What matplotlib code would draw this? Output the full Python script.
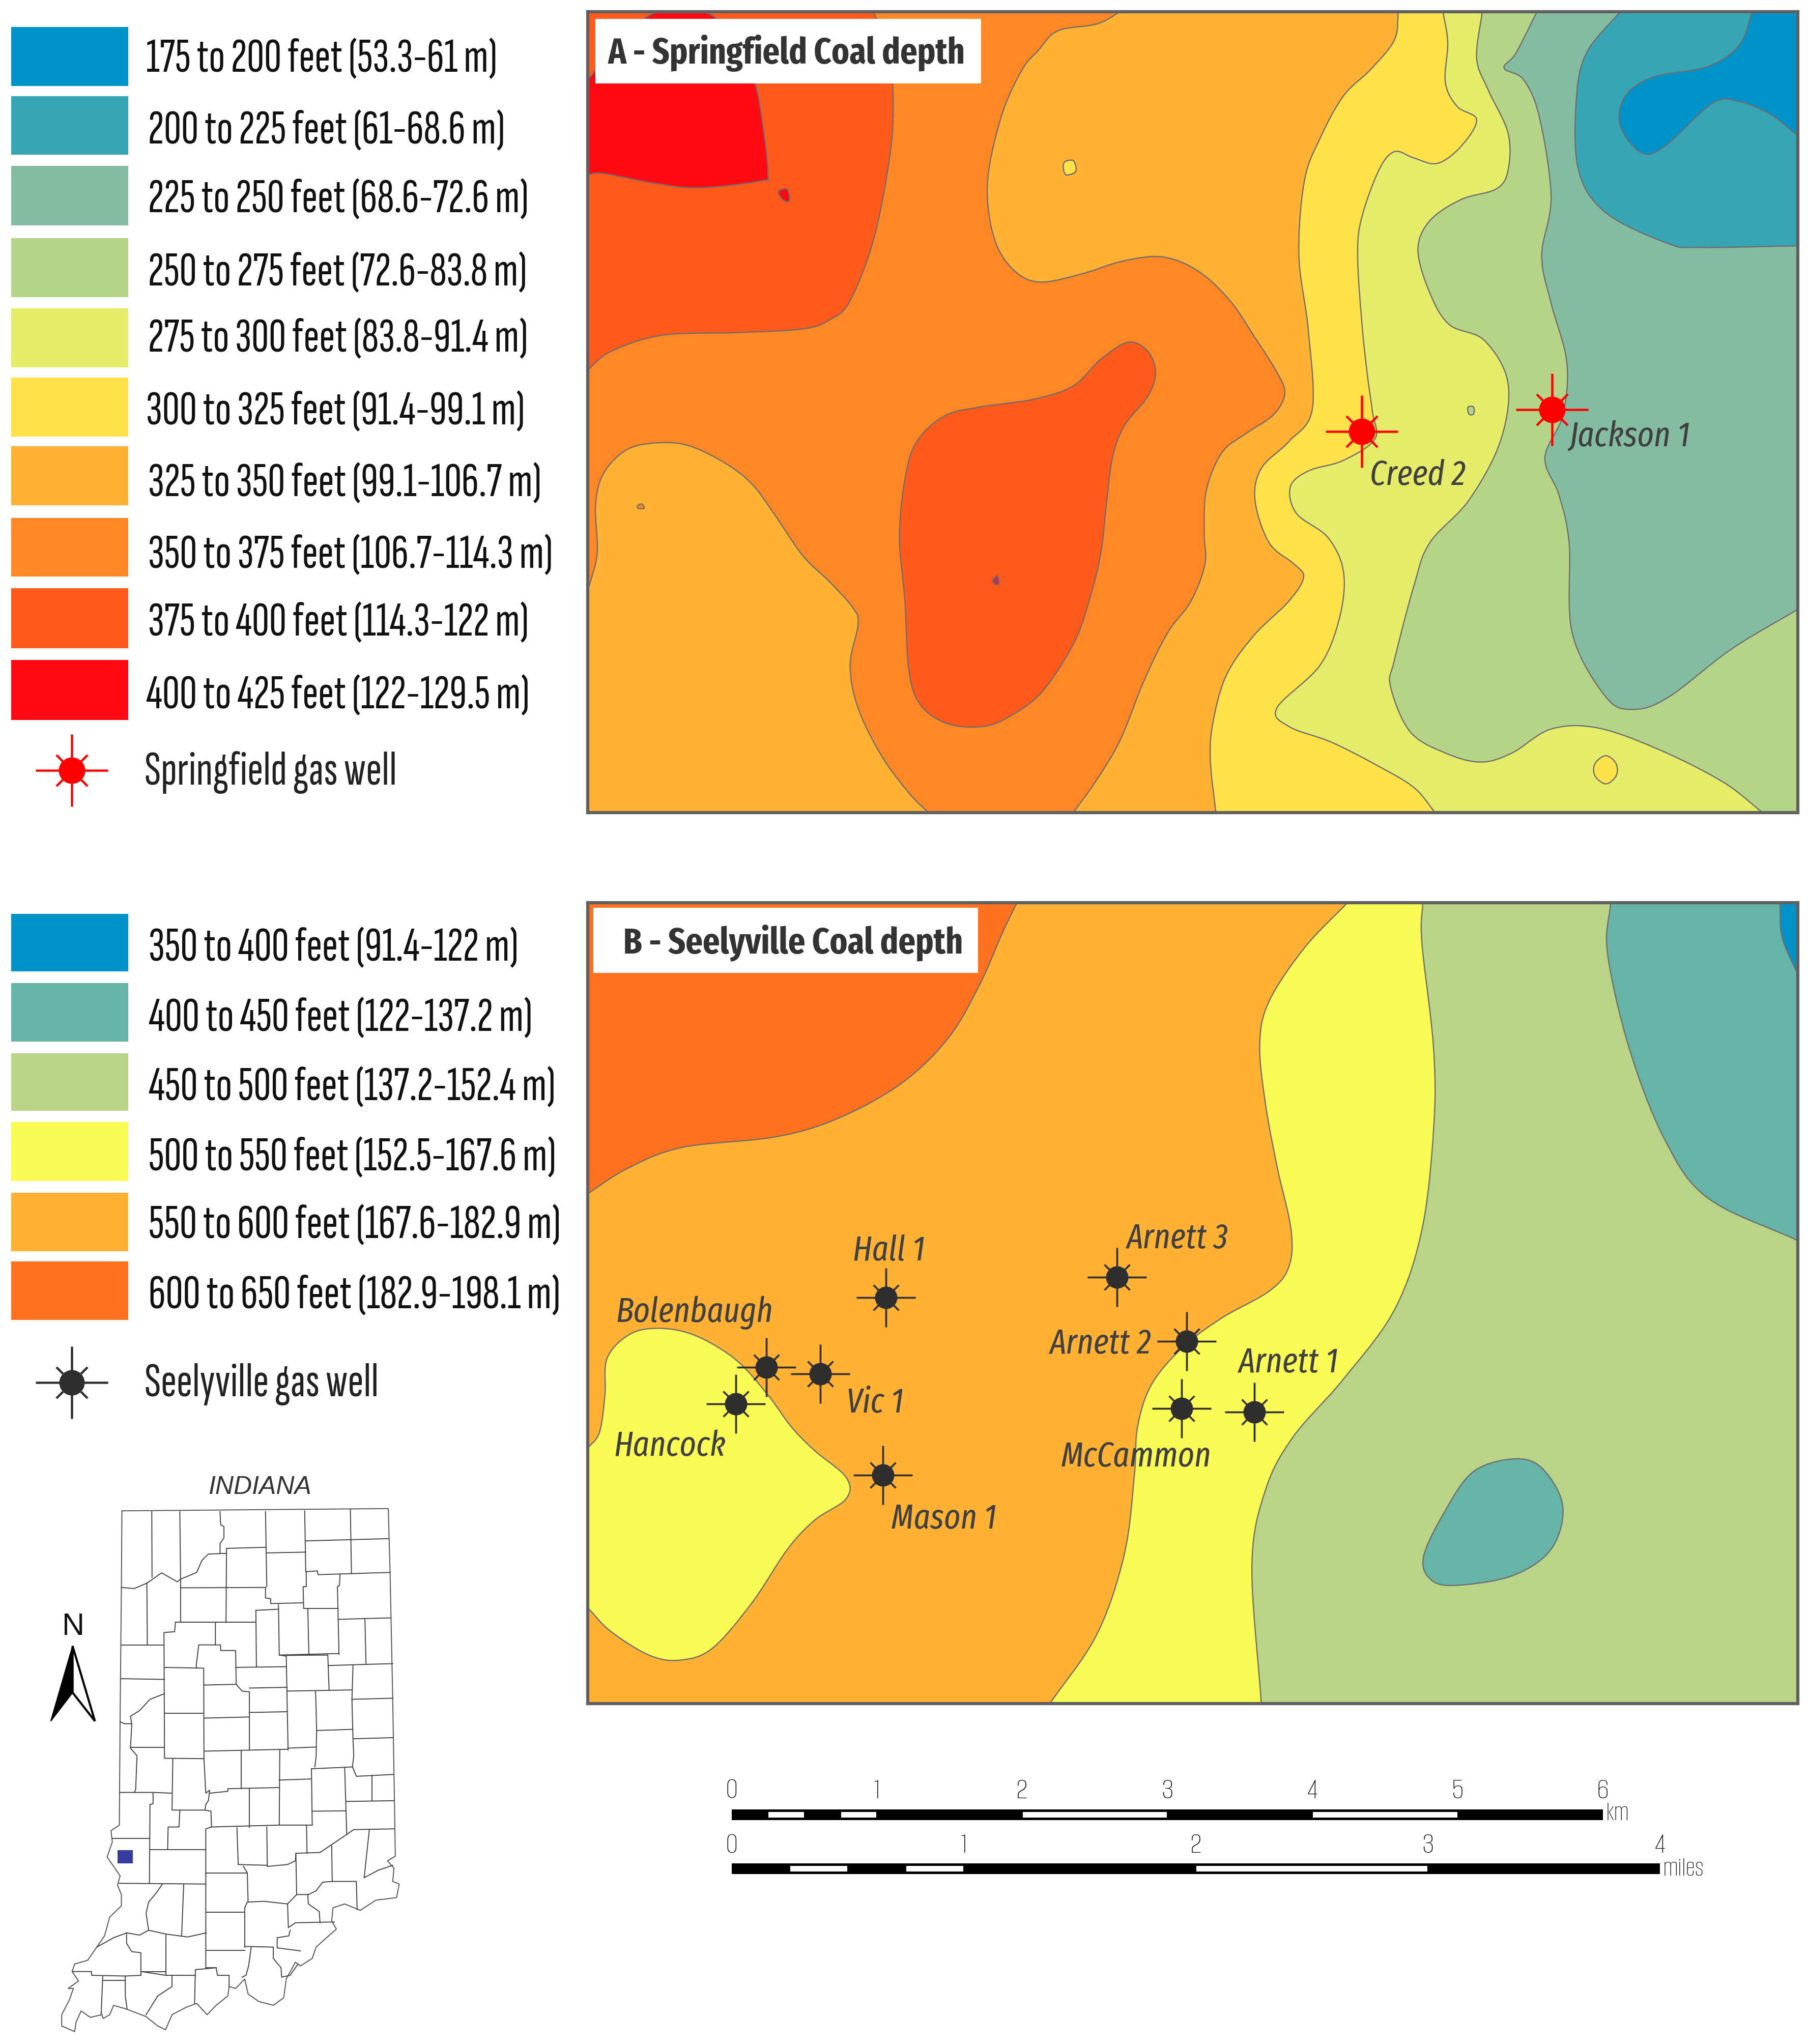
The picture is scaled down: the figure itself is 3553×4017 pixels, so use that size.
import numpy as np
import matplotlib
matplotlib.use("Agg")
import matplotlib.pyplot as plt
from matplotlib.path import Path
from matplotlib.patches import Polygon, Rectangle

W, H = 3553, 4017
LEGFONT = ['Sofia Sans Extra Condensed', 'Fira Sans Extra Condensed', 'Liberation Sans', 'DejaVu Sans']
NARROW = ['Fira Sans Extra Condensed', 'Barlow Condensed', 'Liberation Sans', 'DejaVu Sans']
THIN = ['Alumni Sans', 'Alumni Sans Pinstripe', 'Fira Sans Extra Condensed', 'Liberation Sans', 'DejaVu Sans']
plt.rcParams['font.family'] = NARROW

# ---------- legend data ----------
COL_A = ['#0093C9', '#36A5B4', '#84BCA1', '#B6D488', '#E4EC69', '#FFE14A', '#FFB133', '#FF8726', '#FF5A1C', '#FF0A12']
LAB_A = ['175 to 200 feet (53.3-61 m)', '200 to 225 feet (61-68.6 m)', '225 to 250 feet (68.6-72.6 m)',
         '250 to 275 feet (72.6-83.8 m)', '275 to 300 feet (83.8-91.4 m)', '300 to 325 feet (91.4-99.1 m)',
         '325 to 350 feet (99.1-106.7 m)', '350 to 375 feet (106.7-114.3 m)', '375 to 400 feet (114.3-122 m)',
         '400 to 425 feet (122-129.5 m)']
SW_A = [(53, 169), (189, 304), (326, 443), (468, 584), (606, 722), (742, 858), (877, 993), (1018, 1133), (1156, 1274), (1297, 1415)]
TY_A = [118, 259, 394, 538, 668, 811, 952, 1093, 1226, 1369]
TX_A = [287, 291, 291, 291, 291, 287, 291, 291, 291, 287]

COL_B = ['#0093C9', '#66B3A8', '#B9D487', '#FAFA55', '#FFB133', '#FF701F']
LAB_B = ['350 to 400 feet (91.4-122 m)', '400 to 450 feet (122-137.2 m)', '450 to 500 feet (137.2-152.4 m)',
         '500 to 550 feet (152.5-167.6 m)', '550 to 600 feet (167.6-182.9 m)', '600 to 650 feet (182.9-198.1 m)']
SW_B = [(1796, 1909), (1932, 2047), (2070, 2183), (2205, 2321), (2344, 2459), (2479, 2594)]
TY_B = [1865, 2003, 2139, 2277, 2410, 2548]

# ---------- panel A contours (open boundaries, then closing corners) ----------
R, B_, L, T = 1600, 1570, -30, -20
A_325_LEFT = [(10,1110),(22,1040),(20,950),(30,890),(60,845),(100,832),(140,838),(185,870),(220,910),(250,970),(285,1045),(320,1095),(350,1145),(355,1175),(345,1250),(355,1330),(385,1420),(420,1490),(445,1527)]
A_375_TOP = [(10,695),(40,660),(105,630),(200,625),(285,618),(320,600),(345,565),(375,450),(395,300),(400,200),(395,100),(375,22)]
A_400 = [(10,328),(30,326),(90,343),(150,353),(230,340),(240,325),(232,220),(222,150),(200,90),(170,30),(130,22),(90,28),(50,80),(10,150)]
A_375_BLOB = [(700,643),(725,660),(735,700),(725,745),(695,800),(680,860),(672,950),(665,1040),(650,1130),(630,1210),(590,1300),(550,1345),(515,1365),(470,1360),(435,1325),(420,1260),(415,1130),(408,1010),(415,900),(430,830),(465,782),(510,765),(580,750),(630,725),(665,675)]
A_325 = [(690,22),(660,45),(610,58),(585,95),(565,130),(540,210),(522,320),(522,400),(535,470),(560,515),(590,530),(640,515),(695,490),(745,483),(790,510),(830,565),(860,630),(890,700),(900,740),(885,780),(850,815),(820,850),(800,920),(797,1000),(798,1060),(780,1130),(750,1190),(720,1280),(690,1390),(660,1465),(630,1527)]
A_300 = [(1045,22),(1040,75),(1010,130),(975,180),(945,260),(925,340),(918,480),(930,620),(935,770),(905,830),(870,880),(862,940),(880,1020),(912,1060),(924,1085),(905,1130),(860,1195),(825,1270),(808,1360),(805,1430),(812,1527)]
A_275 = [(1102,22),(1108,80),(1105,155),(1120,200),(1145,225),(1125,275),(1095,307),(1065,297),(1040,285),(1020,320),(998,410),(993,480),(998,600),(1005,700),(1012,775),(1015,825),(975,865),(930,885),(907,915),(915,965),(955,1010),(975,1075),(970,1160),(945,1250),(890,1330),(905,1365),(960,1395),(1020,1440),(1065,1480),(1092,1527)]
A_250 = [(1152,22),(1145,110),(1160,170),(1185,250),(1185,320),(1170,355),(1125,375),(1085,415),(1070,470),(1085,550),(1110,610),(1155,640),(1185,720),(1175,830),(1135,940),(1085,1020),(1065,1100),(1040,1240),(1035,1290),(1060,1375),(1105,1415),(1150,1432),(1190,1415),(1240,1370),(1300,1368),(1380,1410),(1460,1470),(1510,1527)]
A_225 = [(1222,22),(1195,100),(1180,128),(1205,150),(1225,220),(1240,370),(1228,480),(1240,570),(1260,680),(1255,780),(1232,860),(1250,930),(1263,1020),(1267,1190),(1310,1310),(1345,1333),(1390,1310),(1470,1220),(1555,1145)]
A_200 = [(1328,22),(1285,100),(1272,190),(1275,320),(1310,400),(1390,458),(1430,465),(1555,462)]
A_175 = [(1497,22),(1480,85),(1440,125),(1370,145),(1335,180),(1328,235),(1355,287),(1385,275),(1445,195),(1478,190),(1520,215),(1555,255)]
A_ISLE_YEL1 = [(618,306),(630,302),(633,322),(620,328)]
A_ISLE_RED = [(254,359),(265,356),(267,378),(258,374)]
A_ISLE_A = [(527,1090),(533,1082),(535,1097),(529,1097)]
A_ISLE_B = [(74,950),(79,947),(82,955),(74,955)]
A_ISLE_C = [(1134,765),(1141,765),(1141,778),(1135,778)]
A_ISLE_YEL2 = [(1310,1420),(1323,1435),(1323,1458),(1310,1473),(1296,1458),(1296,1435)]

# ---------- panel B contours ----------
B_600 = [(10,572),(60,525),(130,485),(250,465),(330,430),(410,365),(470,280),(510,180),(540,80),(558,25)]
B_YEL_LEFT = [(10,1050),(25,1020),(32,950),(35,880),(65,835),(105,825),(150,840),(200,885),(240,950),(270,1010),(300,1055),(340,1105),(340,1145),(300,1185),(265,1240),(220,1340),(170,1425),(130,1448),(90,1440),(40,1395),(10,1350)]
B_YEL = [(980,25),(925,110),(880,210),(868,290),(875,400),(890,520),(908,640),(905,710),(880,755),(820,805),(770,860),(730,930),(712,1010),(708,1100),(695,1250),(660,1400),(600,1530)]
B_GRN = [(1076,25),(1075,100),(1090,300),(1090,450),(1075,640),(1040,790),(975,920),(910,1030),(875,1130),(858,1270),(870,1530)]
B_TEAL = [(1316,25),(1312,120),(1340,300),(1385,470),(1440,580),(1555,660)]
B_TEAL_BLOB = [(1195,1070),(1230,1090),(1255,1160),(1240,1240),(1190,1290),(1115,1308),(1085,1295),(1077,1255),(1100,1180),(1140,1095)]
B_BLUE = [(1532,25),(1535,90),(1555,160)]

# ---------- wells ----------
WELLS_A = {'Creed 2': (998, 811, 1070, 888), 'Jackson 1': (1241, 770, 1340, 815)}
WELLS_B = {'': (238, 898, 0, 0), 'Vic 1': (307, 910, 377, 960), 'Hancock': (199, 967, 115, 1042),
           'Hall 1': (391, 767, 395, 675), 'Mason 1': (387, 1101, 465, 1178), 'Arnett 3': (686, 729, 763, 652),
           'Arnett 2': (775, 849, 665, 850), 'McCammon': (768, 975, 710, 1062), 'Arnett 1': (861, 982, 905, 885)}
BOLEN = ('Bolenbaugh', 146, 790)

# ---------- scale bars ----------
KM_BREAKS = [0, .25, .5, .75, 1, 2, 3, 4, 5, 6]
KM_LABELS = [0, 1, 2, 3, 4, 5, 6]
MI_BREAKS = [0, .25, .5, .75, 1, 2, 3, 4]
MI_LABELS = [0, 1, 2, 3, 4]

# ---------- Indiana ----------
IN_OUTLINE = [(352,148),(1378,142),(1385,315),(1395,650),(1400,850),(1405,1068),(1375,1080),(1400,1100),(1395,1135),(1420,1142),(1410,1178),(1330,1185),(1270,1212),(1210,1195),(1165,1205),(1160,1240),(1178,1262),(1140,1285),(1100,1310),(1085,1340),(1040,1360),(1020,1350),(985,1395),(975,1445),(935,1465),(880,1455),(838,1435),(825,1395),(790,1420),(765,1415),(760,1440),(715,1465),(680,1490),(640,1460),(600,1470),(545,1490),(520,1530),(490,1520),(445,1495),(370,1475),(320,1465),(305,1490),(280,1500),(275,1490),(230,1497),(195,1480),(175,1510),(170,1535),(120,1520),(120,1490),(135,1470),(150,1450),(165,1420),(145,1420),(185,1400),(160,1375),(170,1355),(220,1345),(255,1310),(285,1280),(305,1230),(350,1200),(350,1170),(335,1145),(345,1120),(320,1095),(295,1070),(315,1030),(310,1000),(342,985),(345,700),(350,350),(352,148)]
IN_COUNTIES = [
 [(467,150),(468,325)], [(575,150),(578,335),(578,443)],
 [(730,150),(732,185),(745,190),(745,220),(730,235),(730,262),(685,263),(660,280),(640,312),(578,330),(565,337),(505,313),(450,340),(400,355),(350,352)],
 [(448,340),(450,505)], [(905,150),(910,350)], [(1056,148),(1060,310)], [(1232,145),(1236,315)],
 [(1060,228),(1380,222)], [(755,248),(905,245)], [(755,248),(753,445)], [(908,260),(1060,258)],
 [(578,353),(905,352)], [(905,352),(905,380),(925,382),(925,395),(1050,393)], [(730,262),(755,262)],
 [(1062,310),(1105,308),(1107,318),(1385,312)], [(1192,318),(1190,347),(1182,350),(1185,435),(1188,530)],
 [(1062,310),(1062,350),(1050,350),(1052,408),(1185,408)], [(955,398),(958,532),(1188,528)],
 [(868,413),(955,410)], [(868,413),(870,563)], [(1068,408),(1072,530)], [(1185,437),(1388,433)],
 [(1288,435),(1292,555)], [(558,445),(868,445)], [(558,445),(555,470),(514,472),(516,806)],
 [(350,505),(514,505)], [(350,595),(516,597)], [(516,565),(667,567),(668,808)],
 [(712,445),(712,505),(648,505),(638,560),(640,567)], [(712,505),(732,505),(732,520),(790,520),(792,610)],
 [(668,612),(792,610),(815,628),(843,630),(843,785)], [(790,565),(985,563)], [(843,620),(988,618)],
 [(985,535),(958,532)], [(985,535),(992,785)], [(985,533),(1145,532),(1150,625)],
 [(1148,560),(1290,557),(1395,555)], [(1242,560),(1238,650),(1242,755),(1245,800),(1240,830)],
 [(990,628),(1238,625)], [(1098,628),(1102,733),(1100,803),(1095,830)], [(1102,733),(1240,730)],
 [(1238,650),(1395,647)], [(1245,755),(1397,752)], [(843,685),(988,683)], [(670,700),(843,697)],
 [(516,687),(667,687)], [(670,788),(990,783)], [(516,807),(668,808)],
 [(668,808),(675,900),(690,892),(685,920),(675,930),(672,945),(695,948),(697,990),(675,995),(675,1365)],
 [(548,808),(545,945),(672,945)], [(575,945),(572,990),(530,990),(528,1050)],
 [(345,898),(472,898),(472,928),(460,930),(458,1140)], [(475,898),(545,900)],
 [(458,1050),(675,1050)], [(342,1140),(675,1142)], [(316,1020),(458,1020)],
 [(345,710),(362,715),(390,715),(385,695),(420,680),(460,650),(516,635)],
 [(390,715),(385,780),(410,800),(405,890),(400,898)], [(385,778),(516,778)],
 [(812,788),(812,888)], [(690,900),(760,895),(760,888),(958,885)], [(960,785),(958,985)],
 [(843,888),(843,990)], [(958,865),(1082,862)], [(1100,777),(992,780)],
 [(1082,835),(1240,830),(1255,855),(1315,853),(1398,850)], [(1082,835),(1085,985)],
 [(1210,832),(1218,1010)], [(1315,853),(1315,920)], [(1215,922),(1400,920)], [(1085,948),(1213,947)],
 [(697,990),(958,985),(1085,985)], [(795,992),(800,1090),(910,1092)], [(910,990),(912,1095)],
 [(1063,985),(1065,1060)], [(912,1095),(990,1090),(1020,1080),(1022,1060),(1115,1058),(1245,997),(1400,995)],
 [(1305,997),(1285,1125)], [(1285,1125),(1340,1105),(1395,1092)],
 [(1160,1040),(1162,1135),(1255,1135),(1258,1210)],
 [(1162,1135),(1125,1137),(1100,1160),(1070,1170),(1025,1170),(990,1195),(900,1188),(835,1190),(825,1205)],
 [(1022,1060),(1025,1170)], [(820,1095),(835,1112),(838,1190)], [(675,1112),(835,1112)],
 [(678,1217),(822,1217)], [(825,1205),(825,1310)], [(677,1318),(825,1318)], [(990,1195),(993,1255)],
 [(1068,1170),(1070,1195),(1112,1215),(1115,1245)], [(993,1258),(1020,1245),(1170,1243)],
 [(1000,1265),(995,1280),(950,1285),(950,1312),(1040,1320)],
 [(825,1308),(935,1310),(935,1340),(965,1365),(967,1390),(1000,1385),(1030,1355)],
 [(850,1310),(840,1360),(830,1385),(815,1390)], [(677,1272),(605,1283),(520,1275),(455,1265)],
 [(508,1142),(485,1165),(455,1190),(445,1220),(455,1265),(420,1278),(370,1272),(320,1285),(255,1310)],
 [(590,1142),(582,1280)], [(522,1278),(522,1385)], [(370,1272),(370,1300),(390,1322),(425,1325),(425,1385)],
 [(425,1375),(522,1375)], [(425,1385),(365,1387),(235,1385),(235,1375),(162,1375)], [(278,1388),(272,1490)],
 [(278,1398),(365,1398)], [(365,1387),(365,1440),(372,1475)], [(425,1375),(520,1385),(635,1385)],
 [(545,1385),(545,1415),(490,1440),(445,1490)], [(635,1370),(632,1460)],
 [(635,1370),(715,1365),(720,1385),(765,1385),(765,1415)], [(677,1365),(715,1365)],
]


def smooth(pts, closed=False, n=14):
    p = np.asarray(pts, float)
    if closed:
        q = np.vstack([p[-1], p, p[0], p[1]])
    else:
        q = np.vstack([2 * p[0] - p[1], p, 2 * p[-1] - p[-2]])
    out = []
    t = np.linspace(0, 1, n, endpoint=False)[:, None]
    for i in range(1, len(q) - 2):
        a, b, c, d = q[i - 1], q[i], q[i + 1], q[i + 2]
        out.append(.5 * (2 * b + (c - a) * t + (2 * a - 5 * b + 4 * c - d) * t ** 2 + (3 * b - a - 3 * c + d) * t ** 3))
    out = np.vstack(out)
    if not closed:
        out = np.vstack([out, p[-1]])
    return out


fig = plt.figure(figsize=(W / 100, H / 100), dpi=100, facecolor='white')


def axes_px(x0, y0, x1, y1, xlim, ylim):
    ax = fig.add_axes([x0 / W, 1 - y1 / H, (x1 - x0) / W, (y1 - y0) / H])
    ax.set_xlim(*xlim)
    ax.set_ylim(*ylim)
    return ax


EDGE = '#6e6e6e'
FRAME = '#606060'
LEG_FS, LAB_FS, TITLE_FS = 68, 49, 51.5


def layer(ax, boundary, color, corners=None, closed=False):
    verts = smooth(boundary, closed=closed)
    if corners:
        verts = np.vstack([verts, corners])
    ax.add_patch(Polygon(verts, closed=True, fc=color, ec=EDGE, lw=1.7, zorder=2))


def well_marker():
    v, c = [], []
    for (a, b) in [((-1, 0), (1, 0)), ((0, -1), (0, 1)), ((.25, .25), (.43, .43)), ((-.25, .25), (-.43, .43)),
                   ((.25, -.25), (.43, -.43)), ((-.25, -.25), (-.43, -.43))]:
        v += [a, b]
        c += [Path.MOVETO, Path.LINETO]
    return Path(v, c)


def wells(ax, xs, ys, color, arm_px, dot_px, lw):
    ax.plot(xs, ys, ls='none', marker=well_marker(), ms=2 * arm_px / 1.389, mec=color, mfc='none', mew=lw, zorder=5)
    ax.plot(xs, ys, ls='none', marker='o', ms=2 * dot_px / 1.389, mec=color, mfc=color, mew=0, zorder=6)


def panel(x0, y0, x1, y1, xlim, ylim):
    ax = axes_px(x0, y0, x1, y1, xlim, ylim)
    ax.set_xticks([])
    ax.set_yticks([])
    for s in ax.spines.values():
        s.set_linewidth(4.5)
        s.set_color(FRAME)
        s.set_zorder(20)
    return ax


# ----- panel A -----
XA, YA = (10, 1555), (1527, 22)
axA = panel(1155, 23, 3533, 1597, XA, YA)
axA.set_facecolor(COL_A[7])
layer(axA, A_325_LEFT, COL_A[6], [(L, B_), (L, 1110)])
layer(axA, A_375_TOP, COL_A[8], [(375, T), (L, T), (L, 695)])
layer(axA, A_400, COL_A[9], [(L, 150), (L, 328)])
layer(axA, A_375_BLOB, COL_A[8], closed=True)
for bnd, ci in [(A_325, 6), (A_300, 5), (A_275, 4), (A_250, 3), (A_225, 2), (A_200, 1), (A_175, 0)]:
    b0, b1 = bnd[0], bnd[-1]
    if b1[0] > 1500 and b1[1] < 1500:
        cor = [(R, b1[1]), (R, T), (b0[0], T)]
    else:
        cor = [(b1[0], B_), (R, B_), (R, T), (b0[0], T)]
    layer(axA, bnd, COL_A[ci], cor)
layer(axA, A_ISLE_YEL1, COL_A[5], closed=True)
layer(axA, A_ISLE_RED, COL_A[9], closed=True)
layer(axA, A_ISLE_A, '#C0304A', closed=True)
layer(axA, A_ISLE_B, COL_A[7], closed=True)
layer(axA, A_ISLE_C, COL_A[3], closed=True)
layer(axA, A_ISLE_YEL2, COL_A[5], closed=True)
axA.add_patch(Rectangle((20, 35), 492, 122, fc='white', ec='none', zorder=8))
axA.text(264, 100, 'A - Springfield Coal depth', fontsize=TITLE_FS, fontweight='bold', color='#333333', ha='center', va='center', zorder=9)
wells(axA, [v[0] for v in WELLS_A.values()], [v[1] for v in WELLS_A.values()], '#FF0000', 71, 26, 3.2)
for name, v in WELLS_A.items():
    axA.text(v[2], v[3] + 6, name, fontsize=LAB_FS, style='italic', color='#404040', ha='center', va='center', zorder=9)

# ----- panel B -----
XB, YB = (10, 1555), (1530, 25)
axB = panel(1155, 1774, 3533, 3348, XB, YB)
axB.set_facecolor(COL_B[4])
layer(axB, B_600, COL_B[5], [(558, T), (L, T), (L, 572)])
layer(axB, B_YEL_LEFT, COL_B[3], [(L, 1350), (L, 1050)])
layer(axB, B_YEL, COL_B[3], [(600, B_), (R, B_), (R, T), (980, T)])
layer(axB, B_GRN, COL_B[2], [(870, B_), (R, B_), (R, T), (1076, T)])
layer(axB, B_TEAL, COL_B[1], [(R, 660), (R, T), (1316, T)])
layer(axB, B_TEAL_BLOB, COL_B[1], closed=True)
layer(axB, B_BLUE, COL_B[0], [(R, 160), (R, T), (1532, T)])
axB.add_patch(Rectangle((17, 35), 491, 122, fc='white', ec='none', zorder=8))
axB.text(272, 100, 'B - Seelyville Coal depth', fontsize=TITLE_FS, fontweight='bold', color='#333333', ha='center', va='center', zorder=9)
wells(axB, [v[0] for v in WELLS_B.values()], [v[1] for v in WELLS_B.values()], '#2E2E2E', 58, 22, 2.6)
for name, v in WELLS_B.items():
    if name:
        axB.text(v[2], v[3] + 5, name, fontsize=LAB_FS, style='italic', color='#404040', ha='center', va='center', zorder=9)
axB.text(BOLEN[1], BOLEN[2] + 5, BOLEN[0], fontsize=LAB_FS, style='italic', color='#404040', ha='center', va='center', zorder=9)

# ----- overlay in image pixels: legends and scale bars -----
ov = axes_px(0, 0, W, H, (0, W), (H, 0))
ov.axis('off')
ov.patch.set_alpha(0)
for col, (a, b), lab, ty, tx in zip(COL_A, SW_A, LAB_A, TY_A, TX_A):
    ov.add_patch(Rectangle((22, a), 230, b - a, fc=col, ec='none'))
    ov.text(tx, ty, lab, fontsize=LEG_FS, family=LEGFONT, color='#111111', va='center', ha='left')
for col, (a, b), lab, ty in zip(COL_B, SW_B, LAB_B, TY_B):
    ov.add_patch(Rectangle((22, a), 230, b - a, fc=col, ec='none'))
    ov.text(292, ty, lab, fontsize=LEG_FS, family=LEGFONT, color='#111111', va='center', ha='left')
wells(ov, [141], [1514], '#FF0000', 71, 26, 3.2)
wells(ov, [141], [2717], '#2E2E2E', 71, 25, 3.2)
ov.text(284, 1518, 'Springfield gas well', fontsize=LEG_FS, family=LEGFONT, color='#222222', va='center')
ov.text(284, 2720, 'Seelyville gas well', fontsize=LEG_FS, family=LEGFONT, color='#222222', va='center')

KM_PX = 223.7 * 1.2755
MI_PX = 357.5 * 1.2755
X0 = 1438


def scalebar(breaks, labels, unit_px, ytop, ybot, ylab, unit, xu, yu):
    for i in range(len(breaks) - 1):
        xa, xb = X0 + breaks[i] * unit_px, X0 + breaks[i + 1] * unit_px
        ov.add_patch(Rectangle((xa, ytop), xb - xa, ybot - ytop, fc='black', ec='none'))
        if i % 2 == 1:
            ov.add_patch(Rectangle((xa + 1, ytop + 5), xb - xa - 2, ybot - ytop - 10, fc='white', ec='none'))
    for v in labels:
        ov.text(X0 + v * unit_px, ylab, str(v), fontsize=44, family=THIN, color='#000000', ha='center', va='center')
    ov.text(xu, yu, unit, fontsize=38, family=THIN, color='#000000', ha='left', va='center')


scalebar(KM_BREAKS, KM_LABELS, KM_PX, 3556, 3577, 3518, 'km', 3156, 3563)
scalebar(MI_BREAKS, MI_LABELS, MI_PX, 3662, 3683, 3625, 'miles', 3268, 3672)

# ----- Indiana inset (same 1568-unit space as the read-off crop) -----
ins = axes_px(60, 2860, 860, 4017, (0, 1568), (1568, 0))
ins.axis('off')
ins.patch.set_alpha(0)
ox, oy = zip(*IN_OUTLINE)
ins.plot(ox, oy, color='#555555', lw=1.4)
for seg in IN_COUNTIES:
    sx, sy = zip(*seg)
    ins.plot(sx, sy, color='#444444', lw=1.4)
ins.add_patch(Rectangle((335, 1052), 59, 35, fc='#363B9E', ec='none'))
ins.text(882, 86, 'INDIANA', fontsize=36, style='italic', family=['Liberation Sans'], color='#333333', ha='center', va='center')
ins.text(165, 458, 'N', fontsize=44, family=['Liberation Sans'], color='#111111', ha='center', va='center')
ins.add_patch(Polygon([(162, 508), (78, 708), (162, 632)], fc='black', ec='black', lw=1.5))
ins.add_patch(Polygon([(162, 508), (248, 708), (162, 632)], fc='white', ec='black', lw=3))

fig.savefig('out.png', dpi=100)
